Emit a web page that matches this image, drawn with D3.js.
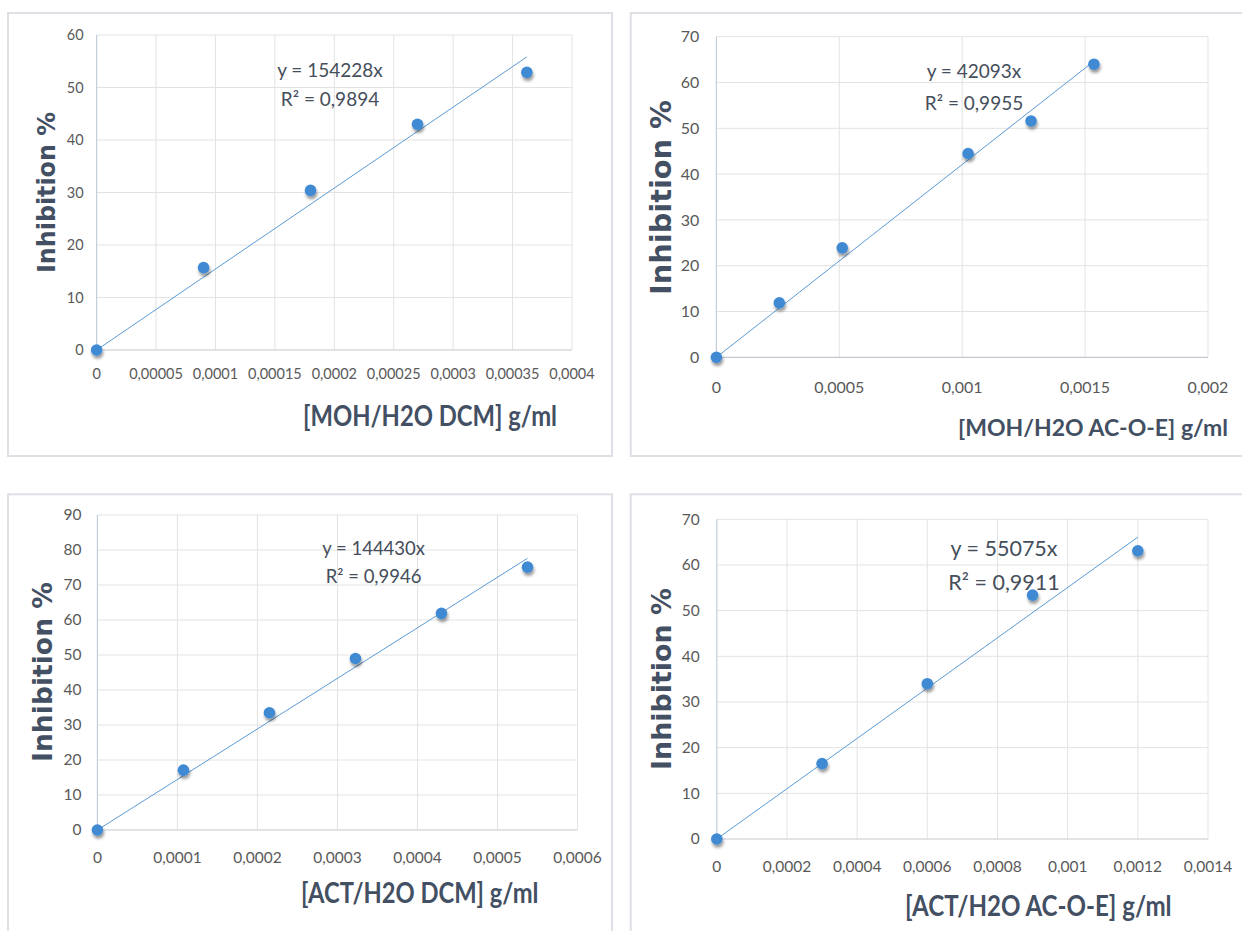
<!DOCTYPE html>
<html>
<head>
<meta charset="utf-8">
<script src="https://cdn.jsdelivr.net/npm/d3@7"></script>
<style>
  body { margin: 0; background: #fff; }
  svg { display: block; }
</style>
</head>
<body>
<svg id="chart" width="1242" height="931"></svg>
<script>
// values
var mohDcmX = [0, 0.00009, 0.00018, 0.00027, 0.000362];
var mohDcmY = [0, 15.7, 30.4, 43.0, 52.9];
var mohAceX = [0, 0.000256, 0.000512, 0.001024, 0.00128, 0.001536];
var mohAceY = [0, 11.9, 23.9, 44.5, 51.6, 64.0];
var actDcmX = [0, 0.0001075, 0.000215, 0.0003225, 0.00043, 0.0005375];
var actDcmY = [0, 17.1, 33.5, 49.0, 61.9, 75.1];
var actAceX = [0, 0.0003, 0.0006, 0.0009, 0.0012];
var actAceY = [0, 16.5, 34.0, 53.4, 63.1];

var slopes = [154228, 42093, 144430, 55075];
var r2Labels = ['0,9894', '0,9955', '0,9946', '0,9911'];
var xTitles = ['[MOH/H2O DCM] g/ml', '[MOH/H2O AC-O-E] g/ml', '[ACT/H2O DCM] g/ml', '[ACT/H2O AC-O-E] g/ml'];
var yTitle = 'Inhibition %';

var xTicks1 = [0, 0.00005, 0.0001, 0.00015, 0.0002, 0.00025, 0.0003, 0.00035, 0.0004];
var xTicks2 = [0, 0.0005, 0.001, 0.0015, 0.002];
var xTicks3 = [0, 0.0001, 0.0002, 0.0003, 0.0004, 0.0005, 0.0006];
var xTicks4 = [0, 0.0002, 0.0004, 0.0006, 0.0008, 0.001, 0.0012, 0.0014];
var yTicks1 = [0, 10, 20, 30, 40, 50, 60];
var yTicks2 = [0, 10, 20, 30, 40, 50, 60, 70];
var yTicks3 = [0, 10, 20, 30, 40, 50, 60, 70, 80, 90];
var yTicks4 = [0, 10, 20, 30, 40, 50, 60, 70];

// where each panel sits on the page (pixels)
var panels = [
  { xs: mohDcmX, ys: mohDcmY, xt: xTicks1, yt: yTicks1,
    box: [8, 13, 612, 456], plot: [96.6, 35, 572, 350],
    yLab: 13, xLab: 24, tickSize: 14.5,
    yTitle: { x: 54.5, y: 192.5, size: 24, len: 161 },
    xTitle: { x: 303, y: 426, len: 254, size: 28 },
    eq: { x: 330, y: 77, gap: 29, size: 19 } },
  { xs: mohAceX, ys: mohAceY, xt: xTicks2, yt: yTicks2,
    box: [630.7, 13, 1262, 456], plot: [716.4, 36.7, 1208, 357.3],
    yLab: 17, xLab: 30, tickSize: 16,
    yTitle: { x: 670.8, y: 197.5, size: 28.8, len: 195 },
    // the reference clips this title at the page edge; keep it just inside
    xTitle: { x: 958, y: 436, len: null, size: 23 },
    eq: { x: 974, y: 78, gap: 32, size: 19 } },
  { xs: actDcmX, ys: actDcmY, xt: xTicks3, yt: yTicks3,
    box: [8, 494.3, 612, 950], plot: [97.4, 515, 577.5, 830],
    yLab: 16, xLab: 28, tickSize: 15.5,
    yTitle: { x: 51.7, y: 672, size: 26.6, len: 180 },
    xTitle: { x: 301, y: 903, len: 237.5, size: 28 },
    eq: { x: 373.6, y: 555, gap: 28, size: 18.5 } },
  { xs: actAceX, ys: actAceY, xt: xTicks4, yt: yTicks4,
    box: [630.7, 494.3, 1262, 950], plot: [716.8, 519.3, 1208, 839],
    yLab: 17, xLab: 28, tickSize: 15.5,
    yTitle: { x: 670.8, y: 679, size: 26.9, len: 182 },
    xTitle: { x: 905, y: 916, len: 266.6, size: 28 },
    eq: { x: 1004, y: 556, gap: 34, size: 21.5 } }
];

var svg = d3.select('#chart');

var defs = svg.append('defs');
defs.append('filter')
    .attr('id', 'dotShadow')
    .attr('x', '-60%').attr('y', '-60%')
    .attr('width', '220%').attr('height', '260%')
  .append('feDropShadow')
    .attr('dx', 1).attr('dy', 3)
    .attr('stdDeviation', 1.6)
    .attr('flood-color', '#000')
    .attr('flood-opacity', 0.4);

var tickFmt = function(v) { return String(+v.toPrecision(6)).replace('.', ','); };

panels.forEach(function(p, i) {
  var g = svg.append('g');
  var x = d3.scaleLinear()
    .domain([0, d3.max(p.xt)])
    .range([p.plot[0], p.plot[2]]);
  var y = d3.scaleLinear()
    .domain([0, d3.max(p.yt)])
    .range([p.plot[3], p.plot[1]]);

  // outer frame
  g.append('rect')
    .attr('x', p.box[0]).attr('y', p.box[1])
    .attr('width', p.box[2] - p.box[0]).attr('height', p.box[3] - p.box[1])
    .attr('fill', '#fff')
    .attr('stroke', '#dde0e4')
    .attr('stroke-width', 2);

  // gridlines
  g.append('g').selectAll('line')
    .data(p.yt.slice(1))
    .enter().append('line')
      .attr('x1', x.range()[0]).attr('x2', x.range()[1])
      .attr('y1', function(d) { return y(d); }).attr('y2', function(d) { return y(d); })
      .attr('stroke', '#e3e3e3').attr('stroke-width', 1);
  g.append('g').selectAll('line')
    .data(p.xt.slice(1))
    .enter().append('line')
      .attr('x1', function(d) { return x(d); }).attr('x2', function(d) { return x(d); })
      .attr('y1', y.range()[0]).attr('y2', y.range()[1])
      .attr('stroke', '#e3e3e3').attr('stroke-width', 1);

  // axis lines
  g.append('line')
    .attr('x1', x(0)).attr('x2', x(0))
    .attr('y1', y.range()[0]).attr('y2', y.range()[1])
    .attr('stroke', '#c3cedc').attr('stroke-width', 1.2);
  g.append('line')
    .attr('x1', x.range()[0]).attr('x2', x.range()[1])
    .attr('y1', y(0)).attr('y2', y(0))
    .attr('stroke', '#c3c8d0').attr('stroke-width', 1.2);

  // tick labels
  g.append('g').selectAll('text')
    .data(p.yt)
    .enter().append('text')
      .attr('x', x(0) - p.yLab)
      .attr('y', function(d) { return y(d); })
      .attr('dy', '0.35em')
      .attr('text-anchor', 'end')
      .style('font-family', 'Lato, "Open Sans", sans-serif')
      .style('font-size', p.tickSize + 'px')
      .style('fill', '#595959')
      .text(function(d) { return d; });
  g.append('g').selectAll('text')
    .data(p.xt)
    .enter().append('text')
      .attr('x', function(d) { return x(d); })
      .attr('y', y(0) + p.xLab)
      .attr('dy', '0.35em')
      .attr('text-anchor', 'middle')
      .style('font-family', 'Lato, "Open Sans", sans-serif')
      .style('font-size', p.tickSize + 'px')
      .style('fill', '#595959')
      .text(tickFmt);

  // linear trendline through origin
  var xEnd = d3.max(p.xs);
  g.append('line')
    .attr('x1', x(0)).attr('y1', y(0))
    .attr('x2', x(xEnd)).attr('y2', y(slopes[i] * xEnd))
    .attr('stroke', '#5b9bd5').attr('stroke-width', 1);

  // points
  g.append('g').selectAll('circle')
    .data(p.xs.map(function(v, k) { return [v, p.ys[k]]; }))
    .enter().append('circle')
      .attr('cx', function(d) { return x(d[0]); })
      .attr('cy', function(d) { return y(d[1]); })
      .attr('r', 5.8)
      .attr('fill', '#3f8ad4')
      .attr('filter', 'url(#dotShadow)');

  // equation + R²
  var eq = g.append('text')
    .attr('text-anchor', 'middle')
    .style('font-family', 'Lato, "Open Sans", sans-serif')
    .style('font-size', p.eq.size + 'px')
    .style('fill', '#454e5b');
  eq.append('tspan').attr('x', p.eq.x).attr('y', p.eq.y).text('y = ' + slopes[i] + 'x');
  eq.append('tspan').attr('x', p.eq.x).attr('y', p.eq.y + p.eq.gap).text('R\u00b2 = ' + r2Labels[i]);

  // axis titles
  g.append('text')
    .attr('transform', 'translate(' + p.yTitle.x + ',' + p.yTitle.y + ')rotate(-90)')
    .attr('text-anchor', 'middle')
    .attr('textLength', p.yTitle.len)
    .attr('lengthAdjust', 'spacingAndGlyphs')
    .style('font-family', '"DejaVu Sans", Verdana, sans-serif')
    .style('font-weight', 'bold')
    .style('font-size', p.yTitle.size + 'px')
    .style('fill', '#434f62')
    .text(yTitle);
  var xt = g.append('text')
    .attr('x', p.xTitle.x).attr('y', p.xTitle.y)
    .style('font-family', 'Lato, "Open Sans", sans-serif')
    .style('font-weight', 'bold')
    .style('font-size', p.xTitle.size + 'px')
    .style('fill', '#434f62')
    .text(xTitles[i]);
  if (p.xTitle.len) {
    xt.attr('textLength', p.xTitle.len).attr('lengthAdjust', 'spacingAndGlyphs');
  }
});
</script>
</body>
</html>
